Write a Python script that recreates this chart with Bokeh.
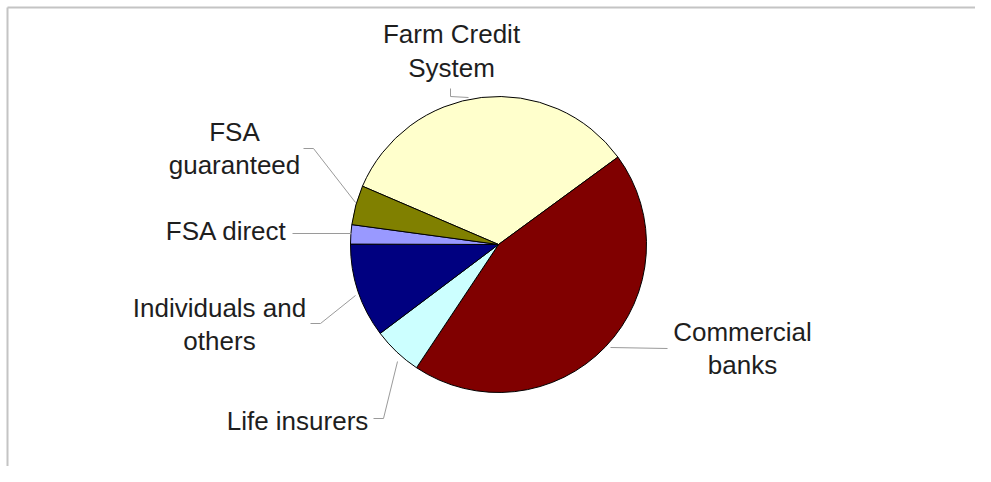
import math
from bokeh.plotting import figure
from bokeh.models import Range1d, ColumnDataSource
from bokeh.core.properties import value
from bokeh.embed import file_html
from bokeh.resources import INLINE

# ---- data (share of farm debt, %), clockwise from Farm Credit System ----
categories = ["Farm Credit\nSystem", "Commercial\nbanks", "Life insurers",
              "Individuals and\nothers", "FSA direct", "FSA\nguaranteed"]
shares = [33.5, 44.4, 5.4, 10.3, 2.1, 4.3]
colors = ["#FFFFCC", "#800000", "#CCFFFF", "#000080", "#9999FF", "#808000"]

# ---- layout (image pixel coordinates) ----
W, H = 975, 466
OX, OY = 0, 0
def X(x): return x - OX
def Y(y): return H - (y - OY)

center = (498, 244)
radius = 148
start_deg = 156.8

# label anchor (center x, baseline y of first line) in image px
text_shift = -8
label_pos = [(451, 41.5), (742, 339), (297, 428), (219, 315), (226, 238), (234, 139)]
line_gap = 33.5
leaders = [
    [(450, 88), (450, 96), (468, 97)],
    [(667, 348), (610, 347)],
    [(373, 418), (383, 418), (397, 361)],
    [(310, 323), (320, 323), (355, 295)],
    [(292, 233), (351, 233)],
    [(303, 148), (313, 148), (355, 202)],
]

p = figure(width=W, height=H, output_backend="svg", toolbar_location=None,
           x_range=Range1d(0, W), y_range=Range1d(0, H), min_border=0)
p.axis.visible = False
p.grid.visible = False
p.outline_line_color = None
p.background_fill_color = "white"
p.border_fill_color = "white"

# frame lines (top and left)
p.line([X(7), X(7)], [Y(7), Y(482)], line_color="#c4c4c4", line_width=2)
p.line([X(7), X(991)], [Y(7), Y(7)], line_color="#c4c4c4", line_width=2)

total = sum(shares)
starts, ends = [], []
a = start_deg
for v in shares:
    span = v / total * 360.0
    starts.append(math.radians(a))
    ends.append(math.radians(a - span))
    a -= span

src = ColumnDataSource(dict(start=starts, end=ends, color=colors, name=categories))
p.wedge(x=X(center[0]), y=Y(center[1]), radius=radius, start_angle="start",
        end_angle="end", direction="clock", fill_color="color",
        line_color="black", line_width=1, source=src)

for pts in leaders:
    p.line([X(x) for x, _ in pts], [Y(y) for _, y in pts],
           line_color="#9a9a9a", line_width=1)

tx, ty, tt = [], [], []
for (cx, by), name in zip(label_pos, categories):
    for i, ln in enumerate(name.split("\n")):
        tx.append(X(cx)); ty.append(Y(by + text_shift + i * line_gap)); tt.append(ln)
p.text(x=tx, y=ty, text=tt, text_align="center", text_baseline="alphabetic",
       text_font=value("Liberation Sans"), text_font_size="26px",
       text_color="#1e1e1e")

open("out.html", "w").write(file_html(p, INLINE))
